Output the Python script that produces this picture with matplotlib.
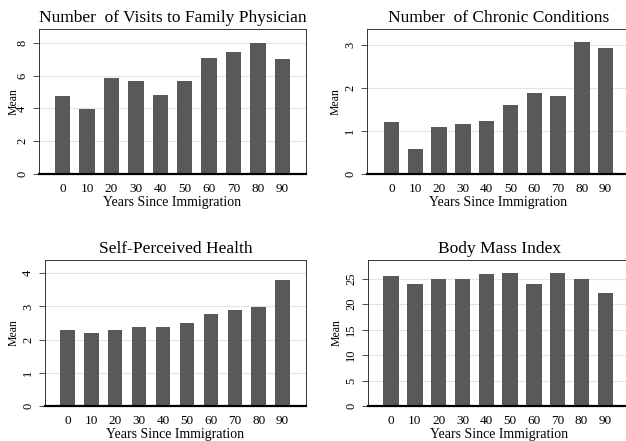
import matplotlib.pyplot as plt

years = ["0", "10", "20", "30", "40", "50", "60", "70", "80", "90"]

visits = [4.76, 3.97, 5.85, 5.65, 4.84, 5.65, 7.1, 7.45, 7.98, 7.04]
chronic = [1.2, 0.59, 1.09, 1.15, 1.22, 1.59, 1.87, 1.81, 3.06, 2.92]
health = [2.28, 2.21, 2.28, 2.39, 2.39, 2.49, 2.78, 2.89, 2.97, 3.8]
bmi = [25.6, 24.0, 24.9, 24.9, 25.9, 26.1, 24.0, 26.1, 24.9, 22.3]

plt.rcParams["font.family"] = ["Liberation Serif", "DejaVu Serif"]

fig = plt.figure(figsize=(6.26, 4.41), dpi=100)

# title, values, yticks, ylim, axes rect, xlim, bar width, ylabel x (axes frac)
panels = [
    ("Number  of Visits to Family Physician", visits, [0, 2, 4, 6, 8], (0, 8.84),
     [0.0623, 0.6054, 0.4265, 0.3288], (-0.97, 9.97), 0.63, -0.071),
    ("Number  of Chronic Conditions", chronic, [0, 1, 2, 3], (0, 3.36),
     [0.5863, 0.6054, 0.42, 0.3288], (-1.03, 10.02), 0.65, -0.095),
    ("Self-Perceived Health", health, [0, 1, 2, 3, 4], (0, 4.4),
     [0.0719, 0.0794, 0.4169, 0.3311], (-0.94, 9.98), 0.6, -0.096),
    ("Body Mass Index", bmi, [0, 5, 10, 15, 20, 25], (0, 28.7),
     [0.5879, 0.0794, 0.42, 0.3311], (-0.97, 10.08), 0.65, -0.095),
]

for title, vals, yt, ylim, pos, xlim, w, lx in panels:
    ax = fig.add_axes(pos)
    x = list(range(len(years)))
    ax.bar(x, vals, width=w, color="#595959", zorder=2)
    ax.set_xlim(*xlim)
    ax.set_ylim(*ylim)
    ax.set_yticks(yt)
    ax.set_yticklabels([str(v) for v in yt], rotation=90, va="center", fontsize=9)
    ax.set_xticks(x)
    ax.set_xticklabels(years, fontsize=9.5)
    ax.tick_params(axis="x", length=0, pad=6.5)
    ax.tick_params(axis="y", length=4.3, width=0.6, pad=3.5, color="#333333")
    ax.grid(axis="y", color="#e3e3e3", linewidth=0.8, zorder=0)
    ax.set_axisbelow(True)
    for s in ["top", "right", "left"]:
        ax.spines[s].set_linewidth(0.7)
        ax.spines[s].set_color("#333333")
    ax.spines["bottom"].set_linewidth(1.6)
    ax.set_title(title, fontsize=12.5, pad=5)
    ax.set_xlabel("Years Since Immigration", fontsize=10, labelpad=0.5)
    ax.set_ylabel("Mean", fontsize=8.5)
    ax.yaxis.set_label_coords(lx, 0.5)

fig.savefig("out.png", dpi=100)
